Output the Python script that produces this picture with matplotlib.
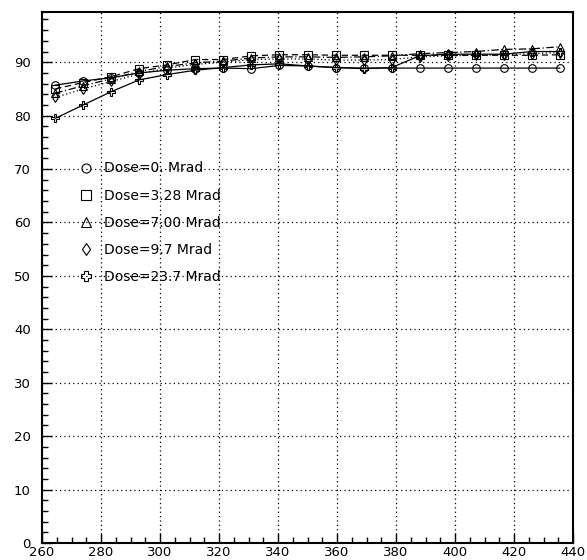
import matplotlib
matplotlib.use("Agg")
import matplotlib.pyplot as plt
from matplotlib.lines import Line2D
from matplotlib.ticker import MultipleLocator

# x positions of the measurements
x = [264.5, 274, 283.5, 293, 302.5, 312, 321.5, 331, 340.5, 350,
     359.5, 369, 378.5, 388, 397.5, 407, 416.5, 426, 435.5]

dose_0 = [85.7, 86.5, 87.1, 88.0, 88.5, 88.8, 88.9, 88.8, 89.4, 89.3,
          89.0, 88.9, 88.9, 88.9, 88.9, 88.9, 88.9, 88.9, 88.9]
dose_3_28 = [85.0, 86.2, 87.3, 88.8, 89.5, 90.5, 90.5, 91.2, 91.4, 91.4,
             91.3, 91.3, 91.3, 91.3, 91.3, 91.3, 91.3, 91.3, 91.4]
dose_7_00 = [84.2, 85.6, 86.9, 88.3, 89.2, 89.9, 90.2, 90.8, 91.0, 91.0,
             90.9, 91.0, 91.2, 91.6, 91.8, 92.0, 92.4, 92.5, 92.9]
dose_9_7 = [83.4, 85.0, 86.4, 87.8, 88.9, 89.6, 90.0, 90.5, 90.6, 90.6,
            90.4, 90.4, 90.5, 91.0, 91.2, 91.3, 91.4, 91.6, 91.8]
dose_23_7 = [79.5, 82.0, 84.5, 86.7, 87.7, 88.5, 89.0, 89.5, 89.7, 89.3,
             89.0, 88.8, 89.0, 91.2, 91.5, 91.5, 91.5, 92.0, 92.0]

labels = ["Dose=0. Mrad", "Dose=3.28 Mrad", "Dose=7.00 Mrad",
          "Dose=9.7 Mrad", "Dose=23.7 Mrad"]

fig = plt.figure(figsize=(5.87, 5.60), dpi=100)
ax = fig.add_axes([42 / 587, 17 / 560, 531 / 587, 531 / 560])

series = [
    (dose_0, "o", "-"),
    (dose_3_28, "s", (0, (5, 3))),
    (dose_7_00, "^", (0, (6, 2, 1, 2))),
    (dose_9_7, "d", (0, (1, 2))),
    (dose_23_7, "P", "-"),
]
for ys, m, ls in series:
    ax.plot(x, ys, color="black", linestyle=ls, linewidth=0.9,
            marker=m, markersize=5.5, markerfacecolor="none",
            markeredgecolor="black", markeredgewidth=0.8)

ax.set_xlim(260, 440)
ax.set_ylim(0, 99.4)
ax.xaxis.set_major_locator(MultipleLocator(20))
ax.xaxis.set_minor_locator(MultipleLocator(5))
ax.yaxis.set_major_locator(MultipleLocator(10))
ax.yaxis.set_minor_locator(MultipleLocator(2))
ax.tick_params(which="both", direction="in", top=False, right=False,
               labelsize=9.5, width=1)
ax.tick_params(which="major", length=7)
ax.tick_params(which="minor", length=4)
ax.tick_params(axis="x", pad=2)
ax.tick_params(axis="y", pad=8)
ax.grid(True, which="major", linestyle=(0, (1, 2.5)), color="black",
        linewidth=0.9)
for s in ax.spines.values():
    s.set_linewidth(1.5)

handles = [Line2D([], [], linestyle="none", marker=m, markersize=6.5,
                  markerfacecolor="none", markeredgecolor="black",
                  markeredgewidth=0.8) for _, m, _ in series]
leg = ax.legend(handles, labels, loc="upper left",
                bbox_to_anchor=(0.047, 0.742), frameon=False,
                fontsize=10, labelspacing=0.95, handlelength=1.0,
                handletextpad=0.8)

fig.savefig("out.png", dpi=100)
